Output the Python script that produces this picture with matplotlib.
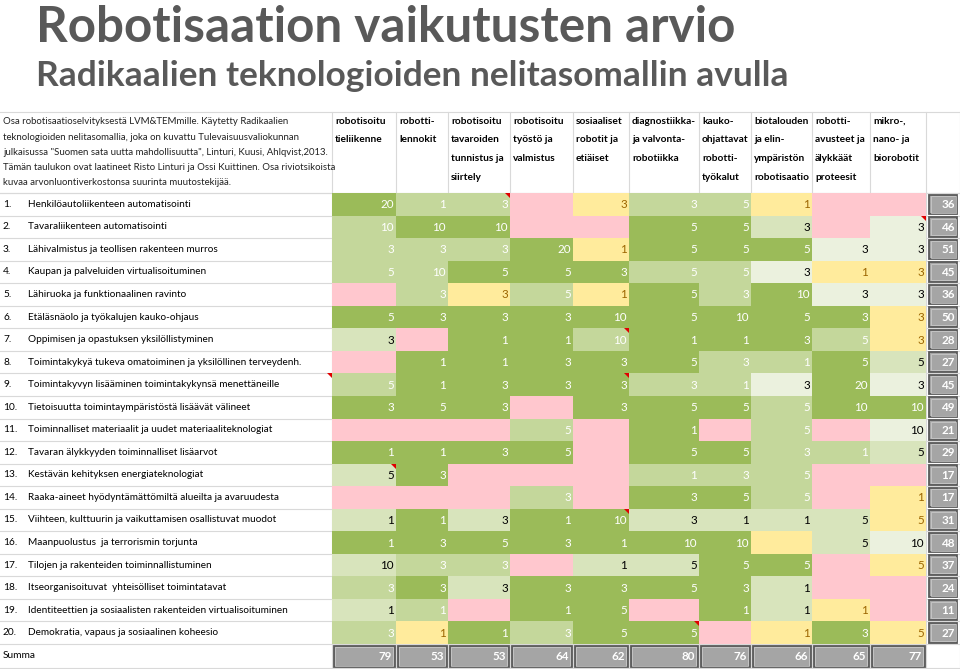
import matplotlib
matplotlib.use("Agg")
import matplotlib.pyplot as plt
from matplotlib.patches import Polygon, Rectangle

plt.rcParams['font.family'] = ['Lato', 'DejaVu Sans']

title = "Robotisaation vaikutusten arvio"
subtitle = "Radikaalien teknologioiden nelitasomallin avulla"
description = ["Osa robotisaatioselvityksestä LVM&TEMmille. Käytetty Radikaalien",
               "teknologioiden nelitasomallia, joka on kuvattu Tulevaisuusvaliokunnan",
               "julkaisussa \"Suomen sata uutta mahdollisuutta\", Linturi, Kuusi, Ahlqvist,2013.",
               "Tämän taulukon ovat laatineet Risto Linturi ja Ossi Kuittinen. Osa riviotsikoista",
               "kuvaa arvonluontiverkostonsa suurinta muutostekijää."]

headers = ["robotisoitu\ntieliikenne", "robotti-\nlennokit", "robotisoitu\ntavaroiden\ntunnistus ja\nsiirtely",
           "robotisoitu\ntyöstö ja\nvalmistus", "sosiaaliset\nrobotit ja\netiäiset",
           "diagnostiikka-\nja valvonta-\nrobotiikka", "kauko-\nohjattavat\nrobotti-\ntyökalut",
           "biotalouden\nja elin-\nympäristön\nrobotisaatio", "robotti-\navusteet ja\nälykkäät\nproteesit",
           "mikro-,\nnano- ja\nbiorobotit"]

row_labels = ["Henkilöautoliikenteen automatisointi",
              "Tavaraliikenteen automatisointi",
              "Lähivalmistus ja teollisen rakenteen murros",
              "Kaupan ja palveluiden virtualisoituminen",
              "Lähiruoka ja funktionaalinen ravinto",
              "Etäläsnäolo ja työkalujen kauko-ohjaus",
              "Oppimisen ja opastuksen yksilöllistyminen",
              "Toimintakykyä tukeva omatoiminen ja yksilöllinen terveydenh.",
              "Toimintakyvyn lisääminen toimintakykynsä menettäneille",
              "Tietoisuutta toimintaympäristöstä lisäävät välineet",
              "Toiminnalliset materiaalit ja uudet materiaaliteknologiat",
              "Tavaran älykkyyden toiminnalliset lisäarvot",
              "Kestävän kehityksen energiateknologiat",
              "Raaka-aineet hyödyntämättömiltä alueilta ja avaruudesta",
              "Viihteen, kulttuurin ja vaikuttamisen osallistuvat muodot",
              "Maanpuolustus  ja terrorismin torjunta",
              "Tilojen ja rakenteiden toiminnallistuminen",
              "Itseorganisoituvat  yhteisölliset toimintatavat",
              "Identiteettien ja sosiaalisten rakenteiden virtualisoituminen",
              "Demokratia, vapaus ja sosiaalinen koheesio"]

N = None
values = [
    [20, 1, 3, N, 3, 3, 5, 1, N, N],
    [10, 10, 10, N, N, 5, 5, 3, N, 3],
    [3, 3, 3, 20, 1, 5, 5, 5, 3, 3],
    [5, 10, 5, 5, 3, 5, 5, 3, 1, 3],
    [N, 3, 3, 5, 1, 5, 3, 10, 3, 3],
    [5, 3, 3, 3, 10, 5, 10, 5, 3, 3],
    [3, N, 1, 1, 10, 1, 1, 3, 5, 3],
    [N, 1, 1, 3, 3, 5, 3, 1, 5, 5],
    [5, 1, 3, 3, 3, 3, 1, 3, 20, 3],
    [3, 5, 3, N, 3, 5, 5, 5, 10, 10],
    [N, N, N, 5, N, 1, N, 5, N, 10],
    [1, 1, 3, 5, N, 5, 5, 3, 1, 5],
    [5, 3, N, N, N, 1, 3, 5, N, N],
    [N, N, N, 3, N, 3, 5, 5, N, 1],
    [1, 1, 3, 1, 10, 3, 1, 1, 5, 5],
    [1, 3, 5, 3, 1, 10, 10, N, 5, 10],
    [10, 3, 3, N, 1, 5, 5, 5, N, 5],
    [3, 3, 3, 3, 3, 5, 3, 1, N, N],
    [1, 1, N, 1, 5, N, 1, 1, 1, N],
    [3, 1, 1, 3, 5, 5, N, 1, 3, 5],
]

# cell fill category per cell (style grid)
fill_codes = ["DMMPYMMYPP", "MDDPPDDLPV", "MMMDYDDDVV", "MMDDDMMVYY", "PMYMYDMDVV",
              "DDDDDDDDDY", "LPDDMDDDMY", "PDDDDDMMDL", "MDDDDMMVDV", "DDDPDDDMDD",
              "PPPMPDPMPV", "DDDDPDDMML", "LDPPPMMMPP", "PPPMPDDMPY", "LDLDDLLLLY",
              "DDDDDDDYLV", "LMMPLLDDPY", "MDLDDDDLPP", "LMPDDPDLYP", "MYDMDDPYDY"]

# comment markers (row, column), column 0 = label column
comments = [(0, 3), (1, 10), (6, 5), (8, 0), (8, 5), (12, 1), (14, 5), (19, 6)]

fill_colors = {"D": "#9BBB59", "M": "#C4D79B", "L": "#D8E4BC", "V": "#EBF1DE",
               "Y": "#FFEB9C", "P": "#FFC7CE"}
text_colors = {"D": "white", "M": "white", "L": "black", "V": "black",
               "Y": "#9C6500", "P": "black"}

# ---- layout (pixels) ----
W, H = 960, 669
col_edges = [0, 332, 396, 448, 510, 573, 629, 699, 751, 812, 870, 926, 960]
table_top = 112
header_bottom = 193
row_h = 22.55
grid_c = "#D9D9D9"

fig = plt.figure(figsize=(W / 100, H / 100), dpi=100)
ax = fig.add_axes([0, 0, 1, 1])
ax.set_xlim(0, W)
ax.set_ylim(H, 0)
ax.axis("off")

ax.text(36, 28, title, fontsize=35.6, fontweight="bold", color="#595959", va="center", ha="left")
ax.text(36, 76, subtitle, fontsize=25.4, fontweight="bold", color="#595959", va="center", ha="left")

nrows = len(row_labels)
summa_top = header_bottom + nrows * row_h
bottom = 668

# grid lines
ax.plot([0, W], [table_top, table_top], color=grid_c, lw=0.8)
ax.plot([0, W], [header_bottom, header_bottom], color=grid_c, lw=0.8)
for i in range(nrows + 2):
    y = header_bottom + i * row_h if i <= nrows else bottom
    ax.plot([0, W], [y, y], color=grid_c, lw=0.8, zorder=1)
for x in col_edges[1:]:
    ax.plot([x, x], [table_top, bottom], color=grid_c, lw=0.8, zorder=1)

# description
for i, line in enumerate(description):
    ax.text(3, 122 + i * 15.1, line, fontsize=6.95, color="#222222", va="center", ha="left")

# headers
for j, h in enumerate(headers):
    for k, line in enumerate(h.split("\n")):
        ax.text(col_edges[j + 1] + 3, 121 + k * 18.7, line, fontsize=7.3, fontweight="bold",
                color="black", va="center", ha="left")

# cells
for i in range(nrows):
    top = header_bottom + i * row_h
    ax.text(3, top + row_h / 2, f"{i + 1}.", fontsize=7.3, color="black", va="center", ha="left")
    ax.text(28, top + row_h / 2, row_labels[i], fontsize=7.2, color="black", va="center", ha="left")
    for j in range(10):
        x0, x1 = col_edges[j + 1], col_edges[j + 2]
        code = fill_codes[i][j]
        ax.bar(x0, row_h, width=x1 - x0, bottom=top, align="edge",
               color=fill_colors[code], linewidth=0, zorder=2)
        v = values[i][j]
        if v is not None:
            ax.text(x1 - 2, top + row_h / 2 + 0.5, str(v), fontsize=8.4, color=text_colors[code],
                    va="center", ha="right", zorder=4)
    # row sum box
    rs = sum(v for v in values[i] if v is not None)
    ax.add_patch(Rectangle((col_edges[11] + 3, top + 1.5), col_edges[12] - col_edges[11] - 6, row_h - 3,
                           facecolor="#A5A5A5", edgecolor="#595959", lw=1.3, zorder=3))
    ax.add_patch(Rectangle((col_edges[11] + 4.5, top + 3), col_edges[12] - col_edges[11] - 9, row_h - 6,
                           facecolor="none", edgecolor="#D0D0D0", lw=0.5, zorder=3))
    ax.text(col_edges[12] - 5, top + row_h / 2 + 0.5, str(rs), fontsize=8.4, fontweight="bold",
            color="white", va="center", ha="right", zorder=4)

# summa row
ax.text(3, (summa_top + bottom) / 2, "Summa", fontsize=7.3, color="black", va="center", ha="left")
for j in range(10):
    x0, x1 = col_edges[j + 1], col_edges[j + 2]
    cs = sum(values[i][j] for i in range(nrows) if values[i][j] is not None)
    ax.add_patch(Rectangle((x0 + 1.5, summa_top + 1.5), x1 - x0 - 3, bottom - summa_top - 2.5,
                           facecolor="#A5A5A5", edgecolor="#595959", lw=1.3, zorder=3))
    ax.add_patch(Rectangle((x0 + 3, summa_top + 3), x1 - x0 - 6, bottom - summa_top - 5.5,
                           facecolor="none", edgecolor="#D0D0D0", lw=0.5, zorder=3))
    ax.text(x1 - 4, (summa_top + bottom) / 2 + 0.5, str(cs), fontsize=8.4, fontweight="bold",
            color="white", va="center", ha="right", zorder=4)

# comment markers
for (r, c) in comments:
    xr = col_edges[c + 1]
    yt = header_bottom + r * row_h
    ax.add_patch(Polygon([(xr - 5, yt), (xr, yt), (xr, yt + 5)], closed=True,
                         facecolor="#E00000", edgecolor="none", zorder=5))

fig.savefig("out.png", dpi=100)
